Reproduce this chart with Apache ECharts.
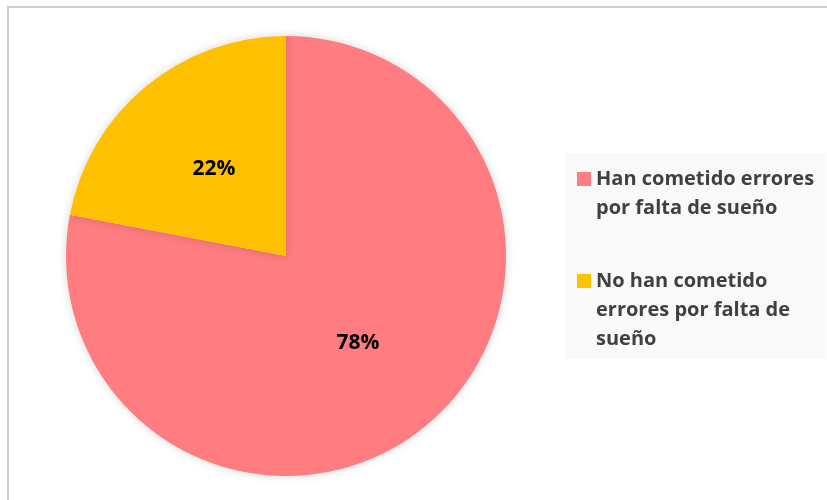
<!DOCTYPE html>
<html>
<head>
<meta charset="utf-8">
<script src="https://cdn.jsdelivr.net/npm/echarts@6/dist/echarts.min.js"></script>
<style>
  html, body { margin: 0; padding: 0; background: #ffffff; }
  #chart { width: 827px; height: 500px; }
</style>
</head>
<body>
<div id="chart"></div>
<script>
// Survey answers: share of respondents who made mistakes due to lack of sleep
var categories = [
  'Han cometido errores por falta de sueño',
  'No han cometido errores por falta de sueño'
];
var values = [78, 22];
var colors = ['#FF7C80', '#FFC000'];
// Legend text broken into display lines
var legendLines = [
  ['Han cometido errores', 'por falta de sueño'],
  ['No han cometido', 'errores por falta de', 'sueño']
];

var FONT = '"Open Sans", "Liberation Sans", sans-serif';

var chart = echarts.init(document.getElementById('chart'), null, { renderer: 'canvas' });

var pieData = categories.map(function (name, i) {
  return { name: name, value: values[i], itemStyle: { color: colors[i] } };
});

var LH = 29;
var richLegend = {
  t: { fontFamily: FONT, fontWeight: 'bold', fontSize: 20, color: '#404040', lineHeight: LH },
  gap: { width: 5, lineHeight: LH },
  ind: { width: 19, lineHeight: LH }
};
colors.forEach(function (c, i) {
  richLegend['sq' + i] = { width: 14, height: 14, backgroundColor: c, lineHeight: LH };
});

chart.setOption({
  animation: false,
  backgroundColor: '#ffffff',
  graphic: [
    {
      type: 'rect',
      shape: { x: 8, y: 7, width: 1000, height: 1000 },
      style: { fill: 'none', stroke: '#d0d0d0', lineWidth: 2 },
      silent: true, z: 0
    },
    {
      type: 'rect',
      shape: { x: 565, y: 153, width: 260, height: 206 },
      style: { fill: '#f9f9f9' },
      silent: true, z: 0
    }
  ],
  legend: {
    orient: 'vertical',
    left: 572,
    top: 169,
    padding: 0,
    itemGap: 53,
    icon: 'none',
    itemWidth: 0,
    itemHeight: 14,
    selectedMode: false,
    data: categories,
    formatter: function (name) {
      var i = categories.indexOf(name);
      return legendLines[i].map(function (line, k) {
        return (k === 0 ? '{sq' + i + '|}{gap|}' : '{ind|}') + '{t|' + line + '}';
      }).join('\n');
    },
    textStyle: { rich: richLegend }
  },
  series: [
    {
      type: 'pie',
      center: [286, 256],
      radius: [0, 220],
      startAngle: 90,
      clockwise: true,
      avoidLabelOverlap: false,
      itemStyle: {
        shadowBlur: 10,
        shadowColor: 'rgba(0,0,0,0.16)'
      },
      label: {
        show: true,
        position: 'inside',
        formatter: '{c}%',
        fontFamily: FONT,
        fontWeight: 'bold',
        fontSize: 21,
        color: '#000000'
      },
      labelLine: { show: false },
      emphasis: { disabled: true },
      data: pieData
    }
  ]
});
</script>
</body>
</html>
